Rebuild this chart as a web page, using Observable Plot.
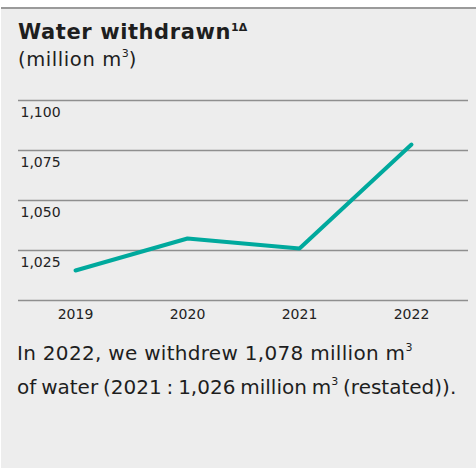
<!DOCTYPE html>
<html>
<head>
<meta charset="utf-8">
<script src="https://cdn.jsdelivr.net/npm/d3@7"></script>
<script src="https://cdn.jsdelivr.net/npm/@observablehq/plot@0.6"></script>
<style>
  html, body { margin: 0; padding: 0; background: #fff; width: 476px; height: 468px; overflow: hidden; }
  #panel { position: absolute; left: 1px; top: 7px; width: 475px; height: 461px; background: #ededed; border-top: 2px solid #9a9a9a; box-sizing: border-box; font-family: "DejaVu Sans", sans-serif; color: #1e1e1e; }
  #title { position: absolute; left: 17px; top: 10px; font-size: 21px; letter-spacing: 0.6px; line-height: 26px; font-weight: 700; white-space: nowrap; }
  #title sup { font-size: 11px; font-weight: 700; letter-spacing: 0; vertical-align: baseline; position: relative; top: -8px; }
  #subtitle { position: absolute; left: 17px; top: 38px; font-size: 19.5px; letter-spacing: 0.6px; line-height: 26px; white-space: nowrap; }
  #subtitle sup, #caption sup { font-size: 11px; letter-spacing: 0; vertical-align: baseline; position: relative; top: -9px; }
  #chart { position: absolute; left: -1px; top: 71px; }
  #caption { position: absolute; left: 16px; top: 329px; font-size: 20px; line-height: 30px; white-space: nowrap; }
  #caption .l1 { letter-spacing: 0.3px; }
  #caption .l2 { word-spacing: -1.5px; }
</style>
</head>
<body>
<div id="panel">
  <div id="title">Water withdrawn<sup>1Δ</sup></div>
  <div id="subtitle">(million m<sup>3</sup>)</div>
  <div id="chart"></div>
  <div id="caption"><span class="l1">In 2022, we withdrew 1,078 million m<sup>3</sup></span><br><span class="l2">of water (2021 : 1,026 million m<sup>3</sup> (restated)).</span></div>
</div>
<script>
const years = ["2019", "2020", "2021", "2022"];
const values = [1015, 1031, 1026, 1078];
const yTicks = [1000, 1025, 1050, 1075, 1100];
const yLabelTicks = [1025, 1050, 1075, 1100];

const data = years.map((y, i) => ({year: y, value: values[i]}));
const fmt = d3.format(",");

const chart = Plot.plot({
  width: 476,
  height: 250,
  marginLeft: 18,
  marginRight: 8,
  marginTop: 20,
  marginBottom: 30,
  style: {background: "transparent", fontFamily: "DejaVu Sans, sans-serif", fontSize: "14px", color: "#222"},
  x: {type: "point", domain: years, padding: 0.5, label: null, tickSize: 0, tickPadding: 9},
  y: {domain: [1000, 1100], axis: null},
  marks: [
    Plot.ruleY(yTicks, {stroke: "#8f8f8f", strokeWidth: 1.3}),
    Plot.text(yLabelTicks, {y: d => d, text: d => fmt(d), frameAnchor: "left", textAnchor: "start", dx: 2, dy: 12, fontSize: 14, fill: "#222"}),
    Plot.line(data, {x: "year", y: "value", stroke: "#00a99d", strokeWidth: 4, strokeLinecap: "round", strokeLinejoin: "miter"})
  ]
});
document.getElementById("chart").appendChild(chart);
</script>
</body>
</html>
